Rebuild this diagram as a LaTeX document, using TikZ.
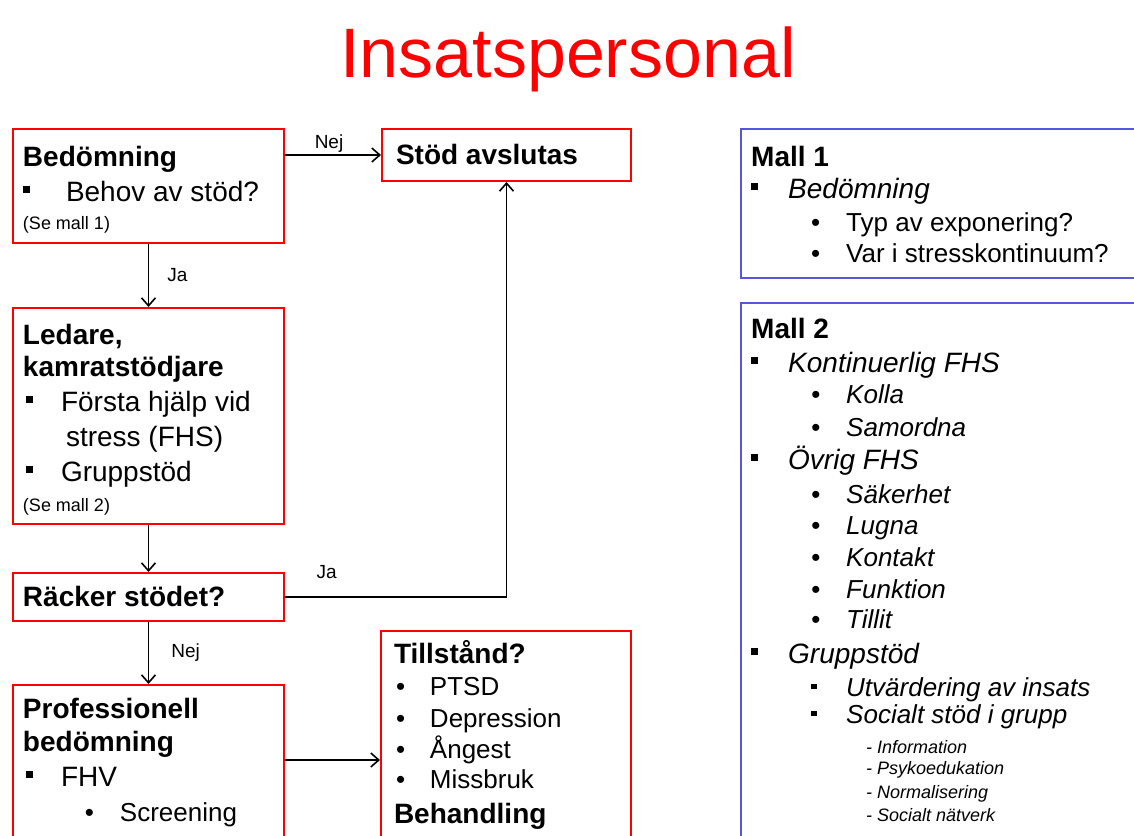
\documentclass[tikz,border=0pt]{standalone}
\usepackage{fontspec}
\setmainfont{Liberation Sans}
\usetikzlibrary{arrows.meta}

\definecolor{boxred}{RGB}{255,0,0}
\definecolor{mallblue}{RGB}{85,85,225}

\newcommand{\leftfont}{\fontsize{14}{17}\selectfont}
\newcommand{\mallfont}{\fontsize{14}{16}\selectfont}
\newcommand{\subfont}{\fontsize{13}{15}\selectfont}
\newcommand{\notefont}{\fontsize{9}{10}\selectfont}
\newcommand{\sqbul}{\rule[4pt]{3.5pt}{3.5pt}}
\newcommand{\sqitem}[3]{\hspace*{#1}\makebox[#2][l]{\sqbul}#3}
\newcommand{\smallsq}[3]{\hspace*{#1}\makebox[#2][l]{\rule[3.5pt]{2.8pt}{2.8pt}}#3}
\newcommand{\dotitem}[3]{\hspace*{#1}\makebox[#2][l]{\textbullet}#3}

\begin{document}
\begin{tikzpicture}[x=0.5pt, y=-0.5pt, >={Straight Barb[length=4pt,width=7pt]},
    redbox/.style={draw=boxred, line width=1pt, anchor=north west, inner ysep=0pt,
      inner xsep=5pt, text width=125.5pt, align=flush left, font=\leftfont},
    mallbox/.style={draw=mallblue, line width=1.2pt, anchor=north west, inner ysep=0pt,
      inner xsep=5pt, text width=200pt, align=flush left, font=\mallfont},
    flow/.style={black, line width=0.8pt},
    lbl/.style={font=\fontsize{9.5}{11}\selectfont, inner sep=1pt}]
  \useasboundingbox (0,0) rectangle (1134,835);
  \clip (0,0) rectangle (1134,835);

  \node[text=boxred, font=\fontsize{35}{40}\selectfont, anchor=base] (title) at (568,77) {Insatspersonal};

  % left column
  \node[redbox, text height=18.5pt, text depth=38.5pt]
    (bed) at (12,128) {\textbf{Bedömning}\\[0.5pt]
      \sqitem{0pt}{21.5pt}{Behov av stöd?}\\[-3pt]
      {\notefont (Se mall 1)}};
  \node[redbox, inner xsep=7pt, text width=110.5pt, text height=17.5pt, text depth=8.5pt]
    (stod) at (381,128) {\textbf{Stöd avslutas}};
  \node[redbox, text height=18pt, text depth=90pt]
    (led) at (12,307) {\textbf{Ledare,}\\[-1pt]
      \textbf{kamratstödjare}\\[0.5pt]
      \sqitem{1.5pt}{17.5pt}{Första hjälp vid}\\[0.5pt]
      \hspace*{21.5pt}stress (FHS)\\[0.5pt]
      \sqitem{1.5pt}{17.5pt}{Gruppstöd}\\[-2pt]
      {\notefont (Se mall 2)}};
  \node[redbox, text height=16.5pt, text depth=7.5pt]
    (rack) at (12,572) {\textbf{Räcker stödet?}};
  \node[redbox, text height=16.5pt, text depth=200pt]
    (prof) at (12,684) {\textbf{Professionell}\\[-0.5pt]
      \textbf{bedömning}\\[0.5pt]
      \sqitem{1.5pt}{17.5pt}{FHV}\\[0.5pt]
      {\subfont\dotitem{31pt}{17.5pt}{Screening}}};
  \node[redbox, inner xsep=6.5pt, text width=112pt, text height=16pt, text depth=200pt]
    (till) at (380,630) {\textbf{Tillstånd?}\\[-1pt]
      {\subfont\dotitem{1pt}{17pt}{PTSD}}\\[-1pt]
      {\subfont\dotitem{1pt}{17pt}{Depression}}\\[-1.5pt]
      {\subfont\dotitem{1pt}{17pt}{Ångest}}\\[-2pt]
      {\subfont\dotitem{1pt}{17pt}{Missbruk}}\\[0.5pt]
      \textbf{Behandling}};

  % templates
  \node[mallbox, text height=18.5pt, text depth=56pt] (mall1) at (740,128)
    {\textbf{Mall 1}\\
      \sqitem{0pt}{18.5pt}{\textit{Bedömning}}\\[0.5pt]
      {\subfont\dotitem{30pt}{17.5pt}{Typ av exponering?}}\\[-0.5pt]
      {\subfont\dotitem{30pt}{17.5pt}{Var i stresskontinuum?}}};
  \node[mallbox, text height=17.5pt, text depth=300pt] (mall2) at (740,302)
    {\textbf{Mall 2}\\[1pt]
      \sqitem{0pt}{18.5pt}{\textit{Kontinuerlig FHS}}\\[-0.5pt]
      {\subfont\itshape\dotitem{30pt}{17.5pt}{Kolla}}\\[0.5pt]
      {\subfont\itshape\dotitem{30pt}{17.5pt}{Samordna}}\\[0.5pt]
      \sqitem{0pt}{18.5pt}{\textit{Övrig FHS}}\\[1pt]
      {\subfont\itshape\dotitem{30pt}{17.5pt}{Säkerhet}}\\[-0.5pt]
      {\subfont\itshape\dotitem{30pt}{17.5pt}{Lugna}}\\
      {\subfont\itshape\dotitem{30pt}{17.5pt}{Kontakt}}\\
      {\subfont\itshape\dotitem{30pt}{17.5pt}{Funktion}}\\[-1pt]
      {\subfont\itshape\dotitem{30pt}{17.5pt}{Tillit}}\\[1.5pt]
      \sqitem{0pt}{18.5pt}{\textit{Gruppstöd}}\\[0.5pt]
      {\subfont\itshape\smallsq{30pt}{17.5pt}{Utvärdering av insats}}\\[-2.5pt]
      {\subfont\itshape\smallsq{30pt}{17.5pt}{Socialt stöd i grupp}}\\[-1pt]
      {\notefont\itshape\hspace*{57.5pt}- Information}\\[-5.5pt]
      {\notefont\itshape\hspace*{57.5pt}- Psykoedukation}\\[-4pt]
      {\notefont\itshape\hspace*{57.5pt}- Normalisering}\\[-4.5pt]
      {\notefont\itshape\hspace*{57.5pt}- Socialt nätverk}};

  % connectors
  \draw[flow, ->] (bed.east |- stod.west) -- (stod.west) node[lbl, midway, above, xshift=-2pt] {Nej};
  \draw[flow, ->] (bed.south) -- (led.north) node[lbl, midway, right=8pt] {Ja};
  \draw[flow, ->] (led.south) -- (rack.north);
  \draw[flow, ->] (rack.east) -| (stod.south) node[lbl, pos=0.094, above=8pt] {Ja};
  \draw[flow, ->] (rack.south) -- (prof.north) node[lbl, midway, right=10pt] {Nej};
  \coordinate (profout) at ([yshift=-38pt]prof.north east);
  \draw[flow, ->] (profout) -- (profout -| till.west);
\end{tikzpicture}
\end{document}
